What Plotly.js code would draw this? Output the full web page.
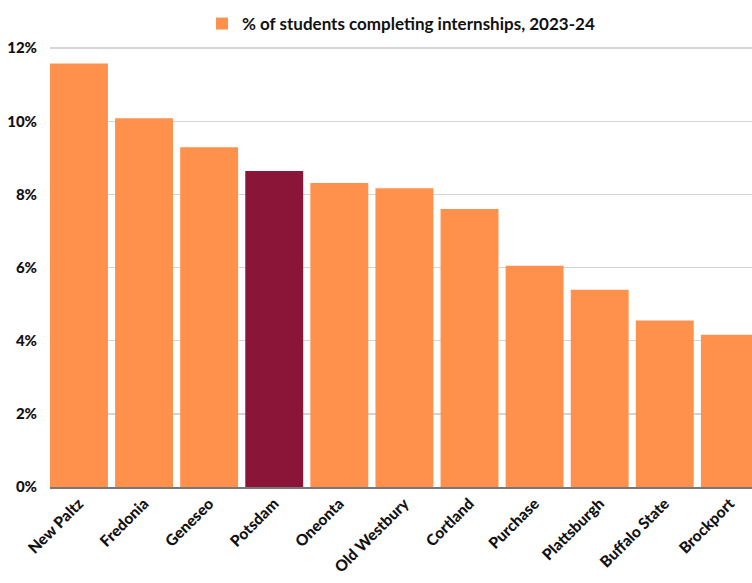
<!DOCTYPE html>
<html>
<head>
<meta charset="utf-8">
<script src="https://cdn.plot.ly/plotly-3.0.1.min.js"></script>
<style>html,body{margin:0;padding:0;background:#fff;}#chart{width:752px;height:583px;}</style>
</head>
<body>
<div id="chart"></div>
<script>
const campuses = ["New Paltz","Fredonia","Geneseo","Potsdam","Oneonta","Old Westbury","Cortland","Purchase","Plattsburgh","Buffalo State","Brockport"];
const internshipPct = [11.58, 10.08, 9.29, 8.64, 8.31, 8.17, 7.60, 6.05, 5.39, 4.55, 4.16];
const seriesName = "% of students completing internships, 2023-24";
const highlight = "Potsdam";

const ORANGE = "#FF914D";
const MAROON = "#8A1538";
const FONT = "Lato, 'Open Sans', sans-serif";

const trace = {
  type: "bar",
  x: campuses,
  y: internshipPct,
  name: seriesName,
  showlegend: true,
  marker: { color: campuses.map(c => c === highlight ? MAROON : ORANGE) },
  hoverinfo: "x+y"
};

const layout = {
  width: 752, height: 583,
  margin: { l: 50, r: 0, t: 47, b: 96 },
  paper_bgcolor: "#fff", plot_bgcolor: "#fff",
  font: { family: FONT, size: 15, color: "#111" },
  bargap: 0.11,
  showlegend: true,
  legend: {
    orientation: "h", x: 0.5, xanchor: "center", y: 1 - 24/583, yanchor: "middle",
    yref: "container",
    font: { family: FONT, size: 17, color: "#111", weight: 700 },
    itemwidth: 30
  },
  xaxis: {
    type: "category",
    range: [-0.445, 10.34],
    tickangle: -45,
    tickfont: { family: FONT, size: 15.5, color: "#111", weight: 900 },
    showline: true, linecolor: "#777", linewidth: 1.5,
    showgrid: false, ticks: "", fixedrange: true
  },
  yaxis: {
    range: [0, 12.03],
    dtick: 2, tick0: 0,
    ticksuffix: "%",
    tickfont: { family: FONT, size: 15, color: "#111", weight: 900 },
    showgrid: true, gridcolor: "#D4D4D4", gridwidth: 1.5,
    zeroline: false, showline: false, ticks: "", ticklabelstandoff: 12,
    fixedrange: true
  }
};

Plotly.newPlot("chart", [trace], layout, { displayModeBar: false, staticPlot: true });
</script>
</body>
</html>
